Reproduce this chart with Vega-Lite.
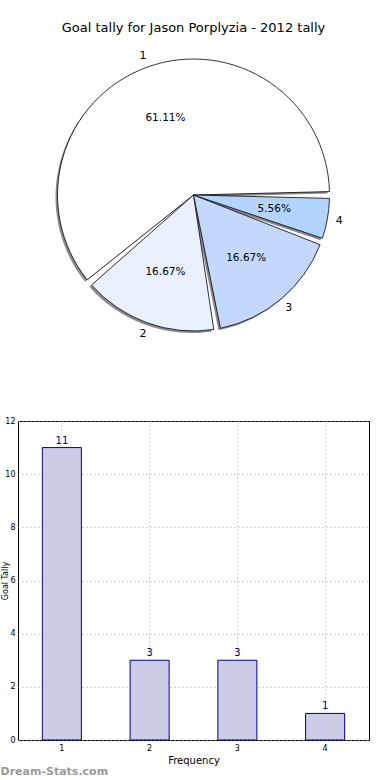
{
  "$schema": "https://vega.github.io/schema/vega-lite/v6.json",
  "background": "white",
  "padding": {"left": 0, "top": 22, "right": 20, "bottom": 2},
  "config": {
    "font": "DejaVu Sans",
    "view": {"stroke": null},
    "axis": {"labelFont": "DejaVu Sans", "titleFont": "DejaVu Sans"}
  },
  "title": {
    "text": "Dream-Stats.com",
    "orient": "bottom",
    "anchor": "start",
    "frame": "bounds",
    "fontSize": 11,
    "fontWeight": "bold",
    "color": "#999999",
    "offset": 0,
    "dx": 0
  },
  "spacing": 71,
  "vconcat": [
    {
      "width": 351,
      "height": 300,
      "title": {
        "text": "Goal tally for Jason Porplyzia - 2012 tally",
        "fontSize": 13,
        "fontWeight": "normal",
        "color": "#000000",
        "offset": 10
      },
      "data": {
        "values": [
          {"cat": "1", "count": 11, "pct": "61.11%"},
          {"cat": "2", "count": 3, "pct": "16.67%"},
          {"cat": "3", "count": 3, "pct": "16.67%"},
          {"cat": "4", "count": 1, "pct": "5.56%"}
        ]
      },
      "encoding": {
        "theta": {"field": "count", "type": "quantitative", "stack": true, "scale": {"range": [1.5708, 7.854]}},
        "order": {"field": "cat", "sort": "descending"}
      },
      "layer": [
        {
          "mark": {"type": "arc", "outerRadius": 136, "padAngle": 0.05, "fill": "#8a8a8a", "xOffset": -2, "yOffset": 2}
        },
        {
          "mark": {"type": "arc", "outerRadius": 136, "padAngle": 0.05, "stroke": "#000000", "strokeWidth": 0.8},
          "encoding": {
            "fill": {
              "field": "cat",
              "type": "nominal",
              "legend": null,
              "scale": {"domain": ["1", "2", "3", "4"], "range": ["#ffffff", "#eaf0ff", "#c4d8ff", "#b3d4ff"]}
            }
          }
        },
        {
          "mark": {"type": "text", "radius": 82, "fontSize": 10.5, "color": "#000000"},
          "encoding": {"text": {"field": "pct"}}
        },
        {
          "mark": {"type": "text", "radius": 148, "fontSize": 11, "color": "#000000"},
          "encoding": {"text": {"field": "cat"}}
        }
      ]
    },
    {
      "width": 351,
      "height": 319,
      "view": {"stroke": "#000000", "strokeWidth": 1},
      "data": {
        "values": [
          {"freq": "1", "count": 11},
          {"freq": "2", "count": 3},
          {"freq": "3", "count": 3},
          {"freq": "4", "count": 1}
        ]
      },
      "encoding": {
        "x": {
          "field": "freq",
          "type": "ordinal",
          "title": "Frequency",
          "scale": {"paddingInner": 0.555, "paddingOuter": 0.2775},
          "axis": {
            "labelAngle": 0,
            "labelFontSize": 8,
            "labelColor": "#000000",
            "titleFontSize": 10,
            "titleFontWeight": "normal",
            "titleColor": "#000000",
            "titlePadding": 3,
            "domain": false,
            "tickSize": 0,
            "labelPadding": 4,
            "grid": true,
            "bandPosition": 0.5,
            "gridColor": "#aaaaaa",
            "gridDash": [1, 3]
          }
        },
        "y": {
          "field": "count",
          "type": "quantitative",
          "title": "Goal Tally",
          "scale": {"domain": [0, 12]},
          "axis": {
            "values": [0, 2, 4, 6, 8, 10, 12],
            "labelFontSize": 8,
            "labelColor": "#000000",
            "titleFontSize": 8,
            "titleFontWeight": "normal",
            "titleColor": "#000000",
            "titleX": -9,
            "domain": false,
            "tickSize": 0,
            "labelPadding": 3,
            "gridColor": "#aaaaaa",
            "gridDash": [1, 3]
          }
        }
      },
      "layer": [
        {
          "mark": {"type": "bar", "fill": "#ccccE6", "stroke": "#00008b", "strokeWidth": 1}
        },
        {
          "mark": {"type": "text", "dy": -7, "fontSize": 10, "color": "#00008b"},
          "encoding": {"text": {"field": "count", "type": "quantitative"}}
        }
      ]
    }
  ]
}
